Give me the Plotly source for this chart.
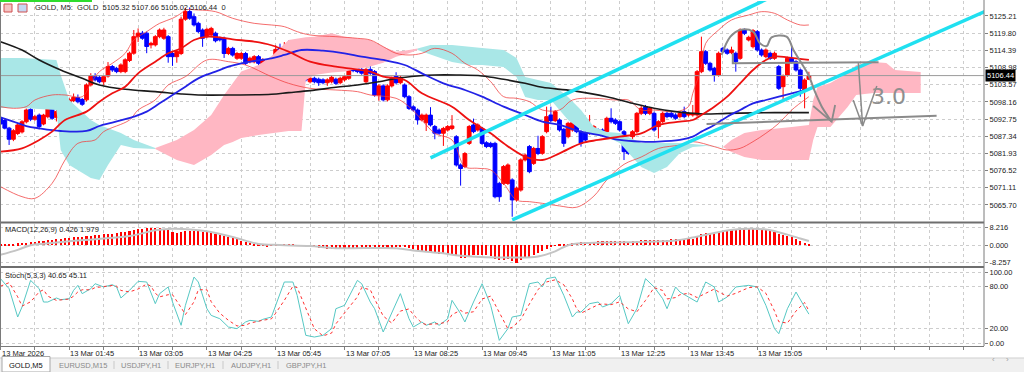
import plotly.graph_objects as go
import pandas as pd

# ---------------- data: GOLD M5 candles ----------------
open_ = [5093.0, 5092.3, 5089.9, 5086.4, 5088.2, 5088.7, 5091.9, 5095.8, 5092.7, 5094.0,
         5091.2, 5093.5, 5096.5, 5093.3, 5094.8, 5097.2, 5094.8, 5098.6, 5099.5, 5098.9,
         5098.8, 5103.5, 5106.1, 5105.9, 5104.5, 5106.3, 5109.3, 5108.7, 5107.7, 5107.7,
         5111.2, 5113.5, 5118.7, 5119.8, 5119.8, 5116.1, 5116.1, 5118.7, 5118.2, 5118.7,
         5113.4, 5112.4, 5113.4, 5124.2, 5126.6, 5125.0, 5122.9, 5120.8, 5118.7, 5119.2,
         5119.8, 5118.2, 5118.2, 5113.4, 5115.0, 5111.9, 5111.9, 5113.4, 5110.8, 5110.8,
         5112.4, 5109.8, 5110.8, 5109.3, 5111.9, 5115.0, 5114.3, 5115.6, 5115.3, 5115.0,
         5114.5, 5111.4, 5104.5, 5105.6, 5105.3, 5105.1, 5104.2, 5104.5, 5105.3, 5104.2,
         5105.1, 5105.6, 5108.7, 5108.7, 5108.4, 5104.5, 5108.4, 5107.7, 5100.3, 5103.2,
         5098.8, 5103.2, 5106.3, 5104.2, 5103.5, 5099.8, 5096.6, 5095.6, 5092.5, 5091.6,
         5094.0, 5090.4, 5089.3, 5088.3, 5089.3, 5089.8, 5087.2, 5078.3, 5077.8, 5085.1,
         5090.9, 5089.3, 5089.8, 5085.3, 5085.1, 5085.1, 5072.5, 5072.5, 5072.5, 5073.6,
         5067.3, 5070.4, 5079.9, 5084.1, 5078.8, 5083.5, 5081.97, 5088.79, 5094.04, 5092.25,
         5092.46, 5089.53, 5087.22, 5089.32, 5091.41, 5088.79, 5088.48, 5088.27, 5088.79, 5089.32,
         5089.32, 5088.79, 5092.99, 5092.46, 5091.94, 5088.79, 5086.17, 5087.22, 5088.79, 5094.56,
         5096.66, 5094.56, 5094.56, 5090.37, 5091.94, 5094.56, 5094.56, 5094.04, 5093.51, 5095.09,
         5094.04, 5094.04, 5094.04, 5107.68, 5113.98, 5110.31, 5108.73, 5106.63, 5115.03, 5114.50,
         5113.66, 5113.46, 5111.88, 5120.80, 5117.65, 5115.55, 5120.28, 5114.50, 5112.41, 5113.46,
         5111.88, 5109.26, 5102.96, 5106.63, 5111.88, 5110.83, 5108.21, 5101.91, 5105.32]
high_ = [5093.6, 5093.0, 5090.3, 5089.6, 5091.3, 5092.4, 5096.1, 5096.5, 5094.1, 5094.5,
         5094.4, 5098.5, 5098.0, 5095.6, 5097.7, 5097.8, 5099.3, 5100.8, 5100.5, 5099.4,
         5104.0, 5107.2, 5107.2, 5106.5, 5106.6, 5110.7, 5109.8, 5109.2, 5110.3, 5111.9,
         5114.0, 5120.8, 5121.3, 5120.5, 5120.3, 5117.1, 5119.2, 5121.3, 5121.5, 5119.2,
         5113.9, 5114.5, 5125.0, 5127.8, 5127.9, 5126.0, 5123.4, 5121.3, 5121.5, 5121.8,
         5120.3, 5118.7, 5118.7, 5115.5, 5115.5, 5113.9, 5113.9, 5113.9, 5112.4, 5112.9,
         5112.9, 5111.9, 5111.3, 5111.9, 5116.0, 5116.5, 5117.0, 5117.5, 5115.8, 5115.5,
         5115.0, 5111.9, 5106.1, 5106.1, 5105.8, 5105.6, 5105.6, 5106.4, 5105.8, 5106.1,
         5106.6, 5109.5, 5109.2, 5109.2, 5108.9, 5108.9, 5109.6, 5108.2, 5103.7, 5103.7,
         5103.7, 5106.1, 5107.5, 5106.4, 5104.0, 5100.3, 5097.1, 5096.1, 5094.5, 5094.5,
         5096.5, 5090.9, 5089.8, 5090.3, 5090.9, 5094.0, 5087.7, 5078.8, 5082.4, 5090.9,
         5092.9, 5091.4, 5090.3, 5085.8, 5085.6, 5085.6, 5073.0, 5078.3, 5078.8, 5074.1,
         5071.5, 5080.4, 5081.9, 5084.6, 5084.0, 5087.5, 5087.7, 5096.66, 5096.66, 5095.6,
         5093.0, 5090.0, 5091.9, 5092.1, 5091.9, 5089.3, 5089.0, 5094.04, 5090.9, 5089.8,
         5089.8, 5093.5, 5096.14, 5093.0, 5092.4, 5089.3, 5086.7, 5089.3, 5095.0, 5097.0,
         5097.2, 5096.6, 5095.1, 5092.4, 5095.1, 5095.1, 5095.1, 5094.6, 5095.1, 5096.66,
         5095.0, 5097.19, 5108.2, 5118.70, 5114.5, 5110.8, 5109.2, 5114.0, 5115.5, 5115.0,
         5115.55, 5114.0, 5121.3, 5121.3, 5119.0, 5121.1, 5120.8, 5115.0, 5115.0, 5114.0,
         5114.0, 5109.8, 5106.8, 5112.4, 5115.55, 5111.3, 5108.7, 5105.6, 5107.66]
low_ = [5090.6, 5089.5, 5084.6, 5085.8, 5087.7, 5088.2, 5091.4, 5092.1, 5092.2, 5089.5,
        5090.8, 5093.0, 5092.5, 5092.0, 5094.3, 5094.0, 5094.3, 5098.1, 5097.7, 5096.9,
        5098.3, 5103.0, 5104.6, 5104.0, 5103.5, 5105.8, 5107.6, 5107.2, 5107.2, 5107.2,
        5110.7, 5113.0, 5117.0, 5117.7, 5113.5, 5115.0, 5115.6, 5118.2, 5117.7, 5110.5,
        5109.5, 5110.5, 5112.9, 5123.7, 5124.0, 5121.9, 5119.8, 5115.5, 5118.2, 5118.7,
        5116.9, 5117.2, 5112.0, 5112.9, 5112.4, 5111.4, 5111.4, 5109.8, 5110.3, 5110.3,
        5109.8, 5109.3, 5106.0, 5108.8, 5111.4, 5113.8, 5113.8, 5114.0, 5114.0, 5113.5,
        5110.9, 5104.6, 5104.0, 5104.0, 5103.2, 5103.7, 5103.2, 5104.0, 5103.5, 5103.7,
        5104.6, 5105.1, 5107.5, 5107.2, 5106.7, 5104.0, 5106.7, 5099.8, 5098.5, 5098.3,
        5098.3, 5102.7, 5103.7, 5103.7, 5099.3, 5095.6, 5095.1, 5091.0, 5092.0, 5089.0,
        5090.4, 5086.4, 5087.8, 5084.3, 5088.8, 5089.3, 5077.8, 5071.8, 5077.3, 5084.6,
        5088.3, 5088.8, 5084.6, 5083.6, 5083.6, 5067.8, 5066.7, 5072.0, 5072.0, 5062.0,
        5066.8, 5069.9, 5079.4, 5075.7, 5078.3, 5081.4, 5081.5, 5088.27, 5091.8, 5091.8,
        5088.8, 5084.0, 5086.7, 5088.8, 5088.3, 5084.07, 5085.7, 5087.8, 5088.3, 5087.8,
        5087.2, 5088.3, 5091.4, 5090.9, 5088.8, 5079.87, 5081.5, 5083.0, 5088.3, 5094.0,
        5094.0, 5094.0, 5088.8, 5086.69, 5091.4, 5093.0, 5093.0, 5092.5, 5093.0, 5093.0,
        5093.5, 5093.5, 5093.5, 5107.2, 5109.8, 5107.7, 5104.53, 5106.1, 5113.5, 5113.0,
        5113.2, 5107.68, 5111.4, 5119.2, 5117.2, 5115.0, 5114.0, 5112.4, 5111.9, 5111.4,
        5111.4, 5101.9, 5098.76, 5106.1, 5110.3, 5107.7, 5099.81, 5096.14, 5105.02]
close_ = [5091.2, 5089.9, 5086.4, 5089.1, 5090.9, 5091.9, 5095.6, 5092.7, 5093.5, 5090.4,
          5094.0, 5096.5, 5093.0, 5095.1, 5097.2, 5094.6, 5098.8, 5099.6, 5098.2, 5097.4,
          5103.5, 5106.3, 5105.1, 5104.5, 5106.1, 5109.3, 5108.2, 5107.7, 5109.8, 5111.4,
          5113.5, 5118.7, 5119.8, 5118.2, 5115.6, 5116.6, 5118.7, 5120.8, 5120.8, 5112.4,
          5112.4, 5114.0, 5124.2, 5126.6, 5124.5, 5122.4, 5120.3, 5118.2, 5121.0, 5121.3,
          5117.4, 5117.7, 5113.4, 5115.0, 5112.9, 5113.4, 5113.4, 5110.3, 5111.9, 5112.4,
          5110.3, 5111.4, 5109.3, 5111.4, 5114.7, 5114.3, 5115.2, 5114.5, 5114.5, 5114.0,
          5111.4, 5105.1, 5105.6, 5104.5, 5104.2, 5104.2, 5105.1, 5105.9, 5104.0, 5105.6,
          5106.1, 5108.7, 5108.0, 5107.7, 5107.2, 5108.4, 5107.2, 5100.3, 5103.2, 5098.8,
          5103.2, 5105.6, 5104.2, 5105.9, 5099.8, 5096.1, 5095.6, 5092.5, 5094.0, 5094.0,
          5090.9, 5088.3, 5088.3, 5089.8, 5090.4, 5090.6, 5078.3, 5077.2, 5081.9, 5090.4,
          5088.8, 5090.9, 5085.1, 5084.1, 5084.1, 5068.3, 5068.3, 5077.8, 5078.3, 5067.3,
          5071.0, 5079.9, 5081.4, 5076.2, 5083.5, 5081.9, 5087.22, 5093.51, 5092.25, 5095.09,
          5089.32, 5085.12, 5091.41, 5091.62, 5088.79, 5085.12, 5086.17, 5089.84, 5090.37, 5088.27,
          5087.74, 5092.99, 5091.94, 5091.41, 5089.32, 5082.49, 5081.97, 5088.79, 5094.56, 5096.14,
          5094.56, 5096.14, 5089.32, 5091.94, 5094.56, 5093.51, 5093.51, 5092.99, 5094.56, 5093.51,
          5094.56, 5094.56, 5107.68, 5113.98, 5110.31, 5108.21, 5106.63, 5113.46, 5113.98, 5113.46,
          5114.50, 5110.83, 5120.80, 5119.75, 5118.49, 5120.59, 5114.50, 5112.93, 5114.50, 5111.88,
          5113.46, 5102.43, 5106.32, 5111.88, 5110.83, 5108.21, 5102.43, 5105.06, 5106.44]
start_time = "2026-03-13 00:25"
symbol, timeframe = "GOLD", "M5"

# ---------------- moving averages (bar index, price) ----------------
ma_red_bar = [0, 5, 9, 12, 15, 20, 23, 26, 29, 32, 36, 39, 42, 45, 48, 51, 54, 59, 63, 67, 72, 78, 81, 86, 89, 94,
              98, 105, 109, 114, 117, 122, 126, 130, 135, 139, 144, 149, 153, 158, 161, 163, 166, 169, 172, 175,
              178, 180, 183, 188]
ma_red_val = [5082.49, 5083.54, 5086.17, 5088.79, 5092.46, 5095.09, 5098.24, 5100.86, 5102.96, 5107.16, 5110.83,
              5113.46, 5115.03, 5117.65, 5118.70, 5118.49, 5117.86, 5117.13, 5116.0, 5113.98, 5110.83, 5109.26,
              5108.73, 5107.68, 5106.11, 5105.06, 5100.86, 5096.66, 5092.46, 5088.27, 5085.12, 5080.92, 5079.87,
              5081.97, 5085.12, 5086.17, 5087.22, 5088.27, 5090.89, 5091.94, 5092.46, 5094.04, 5096.66, 5099.81,
              5104.01, 5108.21, 5111.36, 5112.41, 5112.20, 5111.36]
ma_blue_bar = [0, 3, 6, 9, 14, 20, 23, 26, 31, 34, 37, 40, 43, 46, 50, 53, 56, 59, 63, 66, 70, 75, 80, 84, 89, 94,
               98, 103, 108, 112, 117, 122, 126, 130, 135, 139, 144, 149, 153, 158, 161, 163, 166, 169, 172, 175,
               178, 181, 184, 188]
ma_blue_val = [5093.30, 5091.94, 5090.57, 5089.84, 5089.0, 5089.0, 5090.57, 5091.62, 5093.51, 5095.09, 5097.71,
               5100.34, 5102.96, 5105.58, 5107.68, 5109.26, 5110.31, 5111.04, 5111.88, 5112.93, 5114.50, 5114.29,
               5113.46, 5112.41, 5111.36, 5109.78, 5107.16, 5104.01, 5101.91, 5099.81, 5096.66, 5094.04, 5091.94,
               5090.89, 5088.79, 5087.74, 5086.17, 5085.64, 5085.64, 5086.17, 5087.22, 5088.79, 5090.89, 5093.51,
               5095.61, 5097.71, 5098.76, 5099.81, 5100.86, 5102.2]
ma_black_bar = [0, 5, 9, 14, 19, 23, 29, 36, 42, 46, 54, 63, 67, 72, 78, 83, 88, 92, 97, 101, 106, 112, 117, 122,
                126, 133, 141, 147, 152, 157, 161, 164, 169, 180, 188]
ma_black_val = [5117.13, 5114.50, 5111.36, 5108.21, 5105.58, 5103.48, 5102.12, 5101.39, 5100.65, 5100.34, 5100.34,
                5100.55, 5101.07, 5101.70, 5102.75, 5103.48, 5104.53, 5105.58, 5106.32, 5106.63, 5106.63, 5106.32,
                5105.27, 5104.01, 5102.75, 5101.70, 5099.81, 5097.71, 5096.14, 5095.09, 5094.56, 5094.35, 5094.56,
                5094.77, 5094.77]

# Bollinger bands
bb_up_bar = [0, 3, 6, 8, 12, 15, 19, 21, 23, 26, 29, 31, 34, 37, 40, 42, 43, 46, 50, 54, 59, 63, 66, 69, 72, 78, 83,
             86, 89, 92, 95, 98, 101, 105, 108, 111, 114, 117, 120, 123, 126, 130, 133, 138, 143, 146, 149, 152, 157,
             160, 161, 163, 164, 167, 170, 174, 177, 180, 183, 186, 188]
bb_up_val = [5096.66, 5096.14, 5096.66, 5098.76, 5100.34, 5100.34, 5099.81, 5104.01, 5107.68, 5110.31, 5113.46,
             5117.65, 5120.28, 5122.90, 5124.48, 5126.05, 5127.10, 5127.10, 5126.57, 5124.48, 5122.90, 5122.38,
             5121.85, 5120.28, 5119.23, 5118.70, 5118.18, 5117.65, 5115.55, 5113.46, 5112.93, 5113.46, 5115.03,
             5113.46, 5110.31, 5108.21, 5104.53, 5099.81, 5099.29, 5098.24, 5095.61, 5095.61, 5098.76, 5099.29,
             5098.76, 5098.76, 5095.61, 5095.61, 5095.09, 5096.66, 5100.86, 5109.26, 5116.60, 5120.80, 5123.95,
             5125.52, 5126.57, 5126.05, 5123.95, 5122.38, 5122.38]
bb_lo_bar = [0, 5, 8, 12, 15, 18, 22, 24, 30, 32, 36, 39, 43, 48, 53, 57, 63, 67, 72, 78, 83, 86, 92, 95, 98, 101,
             105, 108, 111, 114, 117, 120, 123, 126, 130, 134, 138, 141, 145, 149, 153, 158, 161, 166, 169, 172, 175,
             178, 181, 184, 188]
bb_lo_val = [5071.47, 5068.32, 5067.80, 5072.52, 5079.87, 5085.12, 5086.17, 5088.79, 5092.46, 5095.61, 5098.76,
             5103.48, 5106.11, 5111.36, 5110.83, 5109.78, 5106.11, 5104.01, 5102.43, 5101.91, 5101.39, 5100.34,
             5099.29, 5096.66, 5092.46, 5088.27, 5086.17, 5077.77, 5077.25, 5076.72, 5072.52, 5067.28, 5066.75,
             5066.23, 5065.4, 5065.0, 5068.5, 5073.6, 5078.5, 5080.8, 5083.5, 5084.59, 5085.64, 5084.07, 5083.02,
             5083.54, 5085.64, 5088.27, 5091.41, 5095.61, 5099.81]

# Ichimoku cloud segments (bar index, upper edge, lower edge)
cyan1_bar = [0, 5, 13, 14, 16, 21, 23, 25, 28, 31, 36]
cyan1_top = [5111.99, 5111.99, 5111.36, 5106.63, 5098.76, 5092.46, 5090.89, 5089.94, 5088.37, 5086.17, 5083.65]
cyan1_bot = [5096.24, 5096.24, 5095.61, 5083.02, 5078.29, 5074.20, 5073.57, 5078.29, 5084.59, 5083.65, 5083.33]
pink1_bar = [36, 41, 45, 49, 52, 54, 56, 60, 63, 67, 70, 71, 73, 77, 80, 86, 89, 92, 95, 97]
pink1_top = [5083.65, 5086.17, 5089.31, 5094.04, 5100.34, 5104.1, 5107.7, 5109.8, 5112.5, 5117.65, 5118.3, 5118.5,
             5118.7, 5119.8, 5118.7, 5117.65, 5115.5, 5113.97, 5114.5, 5115.0]
pink1_bot = [5083.33, 5079.87, 5078.29, 5081.44, 5084.59, 5085.5, 5086.80, 5087.74, 5088.37, 5089.0, 5089.0, 5105.0,
             5106.6, 5107.4, 5107.7, 5109.3, 5110.5, 5112.4, 5113.5, 5114.5]
cyan2_bar = [97, 100, 105, 109, 112, 117, 120, 122, 125, 128, 132, 135, 138, 141, 144, 149, 152, 155, 158, 161, 164, 168]
cyan2_top = [5115.0, 5116.08, 5116.08, 5115.45, 5115.13, 5114.50, 5111.99, 5106.00, 5105.06, 5104.11, 5099.71,
             5095.61, 5090.26, 5088.69, 5088.37, 5085.22, 5085.22, 5085.22, 5085.22, 5084.91, 5084.59, 5083.96]
cyan2_bot = [5114.5, 5112.93, 5110.73, 5109.78, 5109.78, 5109.15, 5106.00, 5099.71, 5098.76, 5098.76, 5092.46,
             5089.31, 5087.74, 5087.11, 5085.22, 5077.66, 5075.77, 5077.66, 5082.07, 5083.96, 5084.28, 5083.96]
pink2_bar = [168, 170, 173, 177, 184, 188, 189, 190, 193, 197, 199, 203, 206, 208, 214]
pink2_top = [5083.96, 5086.17, 5088.37, 5089.31, 5090.26, 5090.89, 5098.76, 5102.85, 5104.11, 5107.26, 5109.78,
             5110.73, 5110.41, 5108.21, 5107.58]
pink2_bot = [5083.96, 5082.39, 5080.81, 5079.87, 5079.87, 5079.87, 5086.17, 5090.26, 5090.26, 5096.56, 5100.34,
             5100.97, 5100.97, 5100.97, 5100.97]

# trend channel (cyan) and hand drawings (grey)
chan_up_bar, chan_up_val = [100, 180], [5080.56, 5131.66]
chan_lo_bar, chan_lo_val = [119, 229], [5061.01, 5126.65]
curve_bar = [167.7, 169.7, 172.0, 175.0, 176.6, 178.2, 179.3, 182.8, 184.4, 186.3, 187.9, 189.4, 191.0, 192.5, 193.3]
curve_val = [5112.93, 5118.60, 5120.80, 5120.27, 5116.61, 5115.76, 5118.50, 5118.69, 5114.50, 5110.32, 5106.63,
             5101.37, 5096.65, 5093.50, 5091.93]
head1_bar, head1_val = [189.0, 193.3, 194.1], [5096.87, 5091.93, 5097.19]
hline1_bar, hline1_val = [170.3, 170.3, 204.2], [5113.47, 5110.32, 5110.64]
arrow2_bar, arrow2_val = [199.5, 200.5], [5110.41, 5090.57]
head2_bar, head2_val = [198.3, 200.5, 203.8], [5098.76, 5090.57, 5103.17]
hline2_bar, hline2_val = [164.2, 217.7], [5091.21, 5093.82]
note_bar, note_val, note_text = 206.5, 5100.0, "3.0"

# MACD(12,26,9)
macd_hist = [0.4, 0.5, 0.6, 0.7, 0.9, 1.0, 1.2, 1.4, 1.6, 1.8,
             2.0, 2.3, 2.6, 2.8, 3.0, 3.2, 3.5, 3.7, 3.9, 4.1,
             4.3, 4.5, 4.7, 4.9, 5.1, 5.3, 5.5, 5.8, 6.0, 6.2,
             6.5, 7.0, 7.5, 7.8, 8.0, 8.2, 8.1, 8.0, 7.6, 7.0,
             6.2, 5.8, 6.2, 6.8, 6.9, 6.7, 6.5, 6.4, 6.1, 5.8,
             5.3, 4.8, 4.3, 3.8, 3.2, 2.7, 2.1, 1.5, 1.0, 0.6,
             0.2, -0.2, -0.4, -0.3, -0.1, 0.2, 0.4, 0.4, 0.3, 0.1,
             -0.1, -0.5, -0.8, -1.0, -1.3, -1.5, -1.7, -1.9, -2.0, -2.0,
             -1.9, -1.7, -1.8, -1.9, -1.9, -1.8, -1.7, -1.9, -2.0, -1.8,
             -1.6, -1.3, -1.0, -0.8, -0.9, -1.4, -2.0, -2.5, -2.8, -3.1,
             -3.4, -3.8, -4.0, -4.1, -4.1, -4.0, -5.0, -6.0, -6.2, -5.5,
             -4.8, -4.5, -4.6, -4.8, -5.0, -6.3, -7.2, -6.8, -6.3, -7.4,
             -8.26, -7.2, -6.0, -5.6, -4.6, -3.8, -2.8, -1.6, -0.8, -0.3,
             0.2, 0.4, 0.6, 0.9, 1.1, 1.3, 1.4, 1.5, 1.7, 1.8,
             1.9, 2.0, 2.1, 2.1, 2.0, 1.8, 1.7, 1.8, 2.1, 2.4,
             2.5, 2.6, 2.4, 2.3, 2.5, 2.6, 2.7, 2.7, 2.8, 2.8,
             2.9, 3.0, 4.0, 5.1, 5.6, 5.8, 5.8, 6.3, 6.7, 7.0,
             7.2, 7.1, 7.7, 8.0, 8.216, 8.2, 7.9, 7.5, 7.2, 6.8,
             6.2, 5.2, 4.6, 4.4, 3.9, 3.1, 2.0, 1.2, 0.426]
macd_sig_bar = [0, 4, 7, 10, 18, 30, 36, 40, 48, 54, 60, 65, 72, 78, 92, 96, 102, 108, 120, 125, 129, 132, 136, 145,
                157, 161, 166, 172, 178, 183, 186, 188]
macd_sig_val = [-4.5, -2.2, 0.0, 0.7, 2.2, 4.3, 7.0, 7.8, 6.6, 3.9, 0.6, 0.1, -0.4, -1.4, -1.4, -2.5, -3.6, -5.1, -5.8,
                -5.3, -2.9, 0.0, 1.0, 1.4, 2.2, 3.6, 5.8, 7.6, 7.4, 5.0, 3.2, 1.979]

# Stochastic(5,3,3)
stoch_bar = [0, 2, 4, 5, 7, 9, 10, 11, 13, 14, 16, 17, 18, 19, 21, 22, 24, 26, 27, 28,
             30, 32, 34, 35, 36, 37, 39, 40, 42, 43, 45, 46, 48, 49, 51, 53, 55, 57, 58, 60,
             61, 63, 64, 66, 68, 69, 71, 73, 75, 77, 78, 80, 83, 84, 86, 87, 89, 91, 93, 95,
             96, 98, 99, 101, 102, 104, 105, 107, 108, 110, 112, 114, 116, 118, 119, 121, 123, 125, 126, 127,
             129, 131, 133, 134, 135, 137, 139, 140, 142, 144, 146, 148, 150, 152, 154, 155, 157, 158, 160, 162,
             164, 166, 167, 169, 171, 174, 176, 178, 180, 181, 183, 185, 187, 188]
stoch_main = [90.6, 76.5, 36.6, 50.7, 88.2, 76.5, 57.7, 57.7, 63.4, 61.0, 62.4, 74.2, 81.2, 69.5, 76.5, 83.5, 78.9,
              82.1, 78.9, 63.4, 74.2, 86.8, 85.9, 69.5, 55.4, 69.5, 78.9, 57.7, 24.9, 53.0, 92.9, 85.9, 48.3, 38.9,
              34.2, 22.5, 20.2, 29.6, 31.9, 30.5, 33.3, 36.6, 53.0, 85.9, 85.9, 67.1, 10.8, 8.4, 10.8, 20.2, 48.3,
              53.0, 88.2, 83.5, 57.7, 48.3, 15.5, 43.6, 69.5, 34.2, 22.5, 29.6, 24.9, 29.6, 24.9, 34.2, 60.1, 41.3,
              29.6, 57.7, 83.5, 53.0, 3.7, 20.2, 36.6, 38.9, 83.5, 85.9, 78.9, 90.6, 92.9, 67.1, 36.6, 43.6, 43.6,
              55.4, 57.7, 50.7, 55.4, 67.1, 27.2, 48.3, 90.6, 78.9, 62.4, 48.3, 78.9, 71.8, 64.8, 57.7, 85.9, 78.9,
              57.7, 64.8, 78.9, 81.2, 78.9, 53.0, 20.2, 13.1, 48.3, 71.8, 50.7, 40.65]
stoch_sig = [80, 85, 65, 52, 58, 72, 75, 66, 60, 61, 62, 66, 72, 75, 75, 78, 80, 81, 80, 74,
             72, 76, 83, 80, 70, 65, 68, 68, 50, 40, 58, 75, 75, 58, 42, 32, 24, 25, 28, 31,
             32, 34, 42, 60, 80, 78, 50, 20, 10, 14, 27, 42, 65, 78, 75, 62, 38, 28, 45, 48,
             40, 28, 26, 27, 27, 30, 40, 46, 42, 44, 62, 66, 42, 20, 22, 33, 55, 75, 82, 86,
             89, 82, 62, 48, 42, 48, 54, 55, 54, 58, 48, 44, 60, 78, 74, 62, 64, 68, 70, 64,
             70, 76, 72, 66, 70, 78, 79, 70, 45, 30, 28, 45, 57, 45.11]

price_ticks = [5125.21, 5119.80, 5114.39, 5108.98, 5103.57, 5098.16, 5092.75, 5087.34, 5081.93, 5076.52, 5071.11, 5065.70]
macd_ticks = [8.216, 0.0, -8.257]
stoch_ticks = [100.0, 80.0, 20.0, 0.0]
label_bars = [0, 16, 32, 48, 64, 80, 96, 112, 128, 144, 160, 176]
tab_labels = ["GOLD,M5", "EURUSD,M15", "USDJPY,H1", "EURJPY,H1", "AUDJPY,H1", "GBPJPY,H1"]

assert len(open_) == len(high_) == len(low_) == len(close_) == len(macd_hist)
assert len(stoch_bar) == len(stoch_main) == len(stoch_sig)

# ---------------- layout helpers ----------------
W, H = 1024, 372
XR = 984          # right edge of plotting area (px)
BAR_PX = 4.3      # bar spacing (px)
def fx(px): return px / W
def fy(py): return 1 - py / H

bars = list(range(len(close_)))
times = pd.date_range(start_time, periods=len(close_), freq="5min")
x_range = [-0.5 / BAR_PX, (XR - 0.5) / BAR_PX]
grid_bars = list(range(0, 232, 8))
FONT = "Liberation Sans"

fig = go.Figure()

def poly(bx, top, bot, color):
    fig.add_trace(go.Scatter(x=bx + bx[::-1], y=top + bot[::-1], fill="toself", fillcolor=color,
                             mode="lines", line=dict(width=0), hoverinfo="skip", xaxis="x", yaxis="y"))

CYAN_CLOUD, PINK_CLOUD = "#a9e7e7", "#ffb7c3"
poly(cyan1_bar, cyan1_top, cyan1_bot, CYAN_CLOUD)
poly(pink1_bar, pink1_top, pink1_bot, PINK_CLOUD)
poly(cyan2_bar, cyan2_top, cyan2_bot, CYAN_CLOUD)
poly(pink2_bar, pink2_top, pink2_bot, PINK_CLOUD)

def line(bx, val, color, width, dash="solid", axis=("x", "y"), shape="linear"):
    fig.add_trace(go.Scatter(x=bx, y=val, mode="lines", line=dict(color=color, width=width, dash=dash, shape=shape),
                             hoverinfo="skip", xaxis=axis[0], yaxis=axis[1]))

# price line
fig.add_trace(go.Scatter(x=[x_range[0], x_range[1]], y=[close_[-1], close_[-1]], mode="lines",
                         line=dict(color="#9a9a9a", width=1), hoverinfo="skip", xaxis="x", yaxis="y"))

line(bb_up_bar, bb_up_val, "rgba(240,60,60,0.75)", 1, shape="spline")
line(bb_lo_bar, bb_lo_val, "rgba(240,60,60,0.75)", 1, shape="spline")
line(ma_black_bar, ma_black_val, "#1a1a1a", 1.6, shape="spline")
line(ma_blue_bar, ma_blue_val, "#2222e6", 1.8, shape="spline")
line(ma_red_bar, ma_red_val, "#ee1111", 1.8, shape="spline")

fig.add_trace(go.Candlestick(
    x=bars, open=open_, high=high_, low=low_, close=close_,
    increasing=dict(line=dict(color="#ff0000", width=1), fillcolor="#ff0000"),
    decreasing=dict(line=dict(color="#0000ff", width=1), fillcolor="#0000ff"),
    whiskerwidth=0, hoverinfo="skip", xaxis="x", yaxis="y"))

# channel + drawings
line(chan_up_bar, chan_up_val, "#20e0f0", 3.5)
line(chan_lo_bar, chan_lo_val, "#20e0f0", 3.5)
GREY = "#8a8a8a"
line(curve_bar, curve_val, GREY, 2, shape="spline")
line(head1_bar, head1_val, GREY, 1.8)
line(hline1_bar, hline1_val, GREY, 2)
line(arrow2_bar, arrow2_val, GREY, 1.5)
line(head2_bar, head2_val, GREY, 1.5)
line(hline2_bar, hline2_val, GREY, 2)

# MACD panel
fig.add_trace(go.Bar(x=bars, y=macd_hist, width=0.5, marker=dict(color="#ff0000", line=dict(width=0)),
                     hoverinfo="skip", xaxis="x2", yaxis="y2"))
line(macd_sig_bar, macd_sig_val, "#c4c4c4", 2, axis=("x2", "y2"), shape="spline")

# Stochastic panel
line(stoch_bar, stoch_main, "#56c8c4", 1, axis=("x3", "y3"))
line(stoch_bar, stoch_sig, "#ff3030", 1, dash="dot", axis=("x3", "y3"))

grid = dict(showgrid=True, gridcolor="#cdcdcd", griddash="dot", gridwidth=1, zeroline=False)
xcommon = dict(domain=[0, fx(XR)], range=x_range, tickmode="array", tickvals=grid_bars,
               showticklabels=False, **grid)
ycommon = dict(side="right", ticks="outside", ticklen=3, tickcolor="#808080", automargin=False,
               tickfont=dict(family=FONT, size=7.5, color="#222"), **grid)

fig.update_layout(
    width=W, height=H, margin=dict(l=0, r=0, t=0, b=0, pad=0), autosize=False,
    paper_bgcolor="white", plot_bgcolor="white", showlegend=False, hovermode=False,
    font=dict(family=FONT, size=8, color="#222"), bargap=0, boxgap=0.12, boxgroupgap=0,
    xaxis=dict(anchor="y", rangeslider=dict(visible=False), automargin=False, **xcommon),
    xaxis2=dict(anchor="y2", automargin=False, **xcommon),
    xaxis3=dict(anchor="y3", ticks="outside", ticklen=3, tickcolor="#808080", automargin=False,
                showline=True, linecolor="#7a7a7a", linewidth=1, **xcommon),
    yaxis=dict(anchor="x", domain=[fy(221), fy(1)], range=[5060.66, 5129.93], tickmode="array",
               tickvals=price_ticks, ticktext=[f"{v:.2f}" for v in price_ticks], **ycommon),
    yaxis2=dict(anchor="x2", domain=[fy(266), fy(224)], range=[-9.8, 10.0], tickmode="array",
                tickvals=macd_ticks, ticktext=[f"{v:.3f}" for v in macd_ticks], **ycommon),
    yaxis3=dict(anchor="x3", domain=[fy(346), fy(268)], range=[-4.23, 105.63], tickmode="array",
                tickvals=stoch_ticks, ticktext=[f"{v:.2f}" for v in stoch_ticks], **ycommon),
)

shapes = []
def pshape(**kw):
    d = dict(xref="paper", yref="paper", layer="above")
    d.update(kw)
    shapes.append(d)

# panel separators / borders
pshape(type="line", x0=0, x1=fx(XR), y0=fy(222.5), y1=fy(222.5), line=dict(color="#6e6e6e", width=2))
pshape(type="line", x0=0, x1=fx(XR), y0=fy(267), y1=fy(267), line=dict(color="#6e6e6e", width=2))
pshape(type="line", x0=fx(XR), x1=fx(XR), y0=fy(0), y1=fy(346), line=dict(color="#7a7a7a", width=1))
pshape(type="line", x0=fx(0.5), x1=fx(0.5), y0=fy(0), y1=fy(346), line=dict(color="#7a7a7a", width=1))
# green one-click bar + header icons
pshape(type="rect", x0=0, x1=fx(92), y0=fy(2), y1=fy(0), fillcolor="#2edc2e", line=dict(width=0))
pshape(type="rect", x0=fx(4), x1=fx(12), y0=fy(12), y1=fy(4), fillcolor="#f3c4c4", line=dict(color="#d05050", width=1))
pshape(type="rect", x0=fx(18), x1=fx(27), y0=fy(12), y1=fy(4), fillcolor="#c4d8f3", line=dict(color="#d05050", width=1))
# tab bar
pshape(type="rect", x0=0, x1=1, y0=0, y1=fy(358), fillcolor="#f0f0f0", line=dict(width=0), layer="below")
pshape(type="line", x0=0, x1=1, y0=fy(358), y1=fy(358), line=dict(color="#cfcfcf", width=1))
pshape(type="rect", x0=fx(2), x1=fx(50), y0=0, y1=fy(356.5), fillcolor="white", line=dict(color="#a8a8a8", width=1))
for sx in [114, 168, 223, 278]:
    pshape(type="line", x0=fx(sx), x1=fx(sx), y0=fy(369), y1=fy(361), line=dict(color="#c8c8c8", width=1))
fig.update_layout(shapes=shapes)

ann = []
tiny = dict(family=FONT, size=7.5, color="#222")
ann.append(dict(x=fx(33), y=fy(8), xref="paper", yref="paper", xanchor="left", yanchor="middle", showarrow=False,
                text=f"{symbol}, {timeframe}:  {symbol}  {open_[-1]:.2f} {high_[-1]:.2f} {low_[-1]:.2f} {close_[-1]:.2f}  0",
                font=tiny))
ann.append(dict(x=fx(3), y=fy(229), xref="paper", yref="paper", xanchor="left", yanchor="middle", showarrow=False,
                text=f"MACD(12,26,9) {macd_hist[-1]:.3f} {macd_sig_val[-1]:.3f}", font=tiny))
ann.append(dict(x=fx(3), y=fy(275), xref="paper", yref="paper", xanchor="left", yanchor="middle", showarrow=False,
                text=f"Stoch(5,3,3) {stoch_main[-1]:.2f} {stoch_sig[-1]:.2f}", font=tiny))
# current price box
ann.append(dict(x=fx(XR + 1), y=close_[-1], xref="paper", yref="y", xanchor="left", yanchor="middle",
                showarrow=False, text=f"{close_[-1]:.2f}", bgcolor="#000000", borderpad=1,
                font=dict(family=FONT, size=7.5, color="white")))
# time labels
for b in label_bars:
    txt = times[b].strftime("%d %b %Y") if b == 0 else times[b].strftime("%d %b %H:%M")
    ann.append(dict(x=b, y=fy(353.5), xref="x3", yref="paper", xanchor="left", yanchor="middle", xshift=-1,
                    showarrow=False, text=txt, font=tiny))
# handwritten note
ann.append(dict(x=note_bar, y=note_val, xref="x", yref="y", showarrow=False, text=note_text,
                font=dict(family="DejaVu Sans", size=22, color="#8f8f8f")))
# tabs
tab_x = [26, 83, 141, 195, 251, 306]
for tx, tl in zip(tab_x, tab_labels):
    ann.append(dict(x=fx(tx), y=fy(365.5), xref="paper", yref="paper", xanchor="center", yanchor="middle",
                    showarrow=False, text=tl,
                    font=dict(family=FONT, size=7.5, color="#111" if tl == tab_labels[0] else "#8a8a8a")))
ann.append(dict(x=fx(997), y=fy(366), xref="paper", yref="paper", showarrow=False, text="‹",
                font=dict(family=FONT, size=8, color="#a0a0a0")))
ann.append(dict(x=fx(1011), y=fy(366), xref="paper", yref="paper", showarrow=False, text="›",
                font=dict(family=FONT, size=8, color="#a0a0a0")))
fig.update_layout(annotations=ann)

fig.write_html("out.html", config={"displayModeBar": False},
               post_script="document.body.style.margin='0';document.body.style.padding='0';")
